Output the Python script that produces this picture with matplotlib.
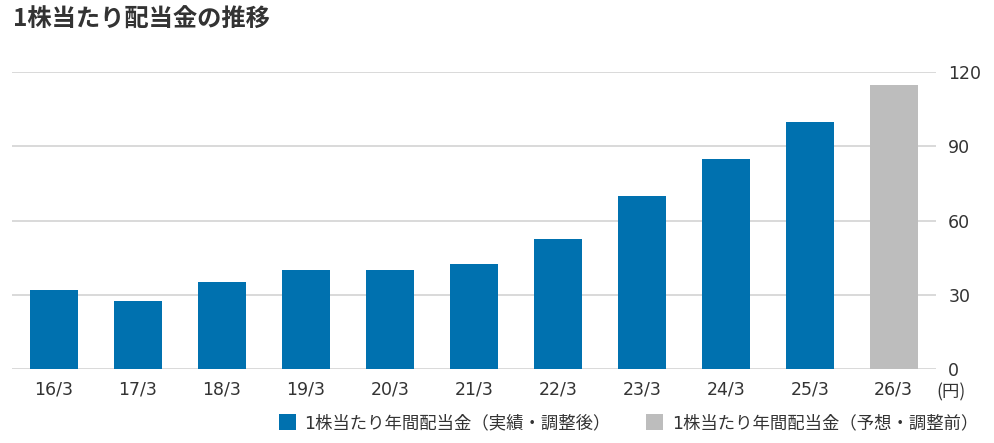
import matplotlib
matplotlib.use("Agg")
import matplotlib.pyplot as plt
from matplotlib.patches import Patch
from matplotlib.transforms import blended_transform_factory

plt.rcParams['font.family'] = ['DejaVu Sans', 'Noto Sans CJK JP']

categories = ["16/3", "17/3", "18/3", "19/3", "20/3", "21/3", "22/3", "23/3", "24/3", "25/3", "26/3"]
values = [32, 27.5, 35, 40, 40, 42.5, 52.5, 70, 85, 100, 115]
is_forecast = [False] * 10 + [True]
yticks = [0, 30, 60, 90, 120]
title = "1株当たり配当金の推移"
legend_labels = ["1株当たり年間配当金（実績・調整後）", "1株当たり年間配当金（予想・調整前）"]
unit_label = "(円)"

BLUE = "#0071AF"
GRAY = "#BDBDBD"
TEXT = "#333333"
GRID = "#D3D3D3"

fig = plt.figure(figsize=(9.95, 4.43), dpi=100)
ax = fig.add_axes([0.0121, 0.167, 0.9283, 0.6698])

x = list(range(len(categories)))
colors = [GRAY if f else BLUE for f in is_forecast]
ax.bar(x, values, width=0.571, color=colors, zorder=3)

ax.set_xlim(-0.5, len(categories) - 0.5)
ax.set_ylim(0, 120)
ax.set_yticks(yticks)
ax.yaxis.tick_right()
ax.set_xticks(x)
ax.set_xticklabels(categories)
ax.tick_params(axis='both', length=0, labelsize=12.5, colors=TEXT)
ax.tick_params(axis='x', pad=8)
ax.tick_params(axis='y', pad=9)
for lbl in ax.get_yticklabels():
    lbl.set_horizontalalignment('left')
for s in ax.spines.values():
    s.set_visible(False)
ax.grid(axis='y', color=GRID, linewidth=1.2, zorder=0)
ax.set_axisbelow(True)

trans = blended_transform_factory(ax.transAxes, ax.transAxes)
ax.text(1.001, -0.079, unit_label, transform=trans, ha='left', va='center',
        fontsize=12.5, color=TEXT, family=['Noto Sans CJK JP', 'DejaVu Sans'])

fig.text(0.013, 0.955, title, ha='left', va='center', fontsize=17.5,
         fontweight='bold', color=TEXT, family=['Noto Sans CJK JP', 'DejaVu Sans'])

handles = [Patch(facecolor=BLUE, edgecolor='none'), Patch(facecolor=GRAY, edgecolor='none')]
leg = fig.legend(handles, legend_labels, ncol=2, loc='center right',
                 bbox_to_anchor=(0.99, 0.045), frameon=False, fontsize=12.5,
                 handlelength=1.0, handleheight=1.0, handletextpad=0.5,
                 columnspacing=2.0, borderaxespad=0)
for t in leg.get_texts():
    t.set_color(TEXT)

fig.savefig("out.png", dpi=100, facecolor="white")
